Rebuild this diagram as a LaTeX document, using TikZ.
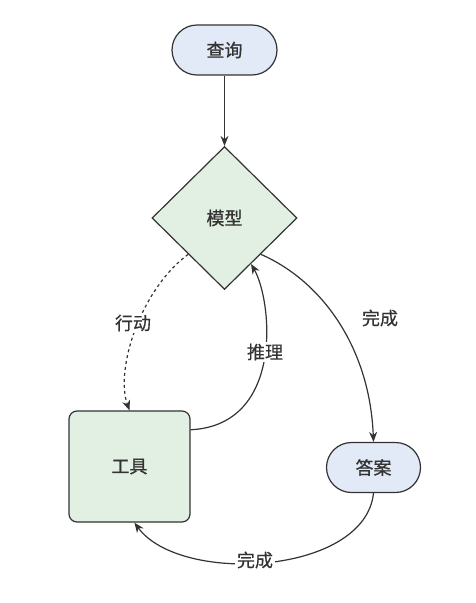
\documentclass[tikz,border=0pt]{standalone}
\usepackage{fontspec}
\setmainfont{Noto Sans CJK SC}[FakeBold=0.4]
\newfontfamily\nodefont{Noto Sans CJK SC}[FakeBold=0.9]
\usetikzlibrary{shapes.geometric,arrows.meta}
\definecolor{edgec}{HTML}{333333}
\definecolor{bluefill}{HTML}{E3EAF7}
\definecolor{greenfill}{HTML}{E2EFE3}
\begin{document}
\begin{tikzpicture}[x=1pt,y=-1pt,
  every node/.style={font=\fontsize{18}{21}\selectfont, text=edgec},
  stadium/.style={draw=edgec, line width=1.2pt, fill=bluefill, rounded corners=25pt, minimum height=50pt, inner sep=0pt, font=\nodefont\fontsize{18}{21}\selectfont},
  decision/.style={draw=edgec, line width=1.2pt, fill=greenfill, diamond, aspect=1, minimum width=145pt, minimum height=143pt, inner sep=0pt, font=\nodefont\fontsize{18}{21}\selectfont},
  toolbox/.style={draw=edgec, line width=1.2pt, fill=greenfill, rounded corners=8pt, minimum width=121pt, minimum height=111pt, inner sep=0pt, font=\nodefont\fontsize{18}{21}\selectfont},
  conn/.style={draw=edgec, line width=1.2pt, -{Stealth[length=10pt,width=8pt]}},
  lbl/.style={fill=white, inner sep=2pt}]
\useasboundingbox (0,0) rectangle (475,603);
\fill[white] (0,0) rectangle (475,603);
\node[stadium, minimum width=105pt] (q) at (224.5,50) {查询};
\node[decision] (m) at (224.5,218) {模型};
\node[toolbox] (t) at (129.5,466.5) {工具};
\node[stadium, minimum width=94pt] (a) at (373.5,467.5) {答案};
\draw[conn] (q.south) -- (m.north);
\draw[conn, dashed] (m.225) .. controls (140,290) and (115,370) .. (t.north);
\draw[conn] (t.31) .. controls (285,425) and (272,300) .. (m.-60);
\draw[conn] (m.-45) .. controls (324,282) and (370,350) .. (a.north);
\draw[conn] (a.south) .. controls (365,575) and (180,585) .. (t.-85);
\node[lbl] (l1) at (133,323) {行动};
\node[lbl] (l2) at (265,352) {推理};
\node (l3) at (380,318) {完成};
\node[lbl] (l4) at (255,560) {完成};
\end{tikzpicture}
\end{document}
